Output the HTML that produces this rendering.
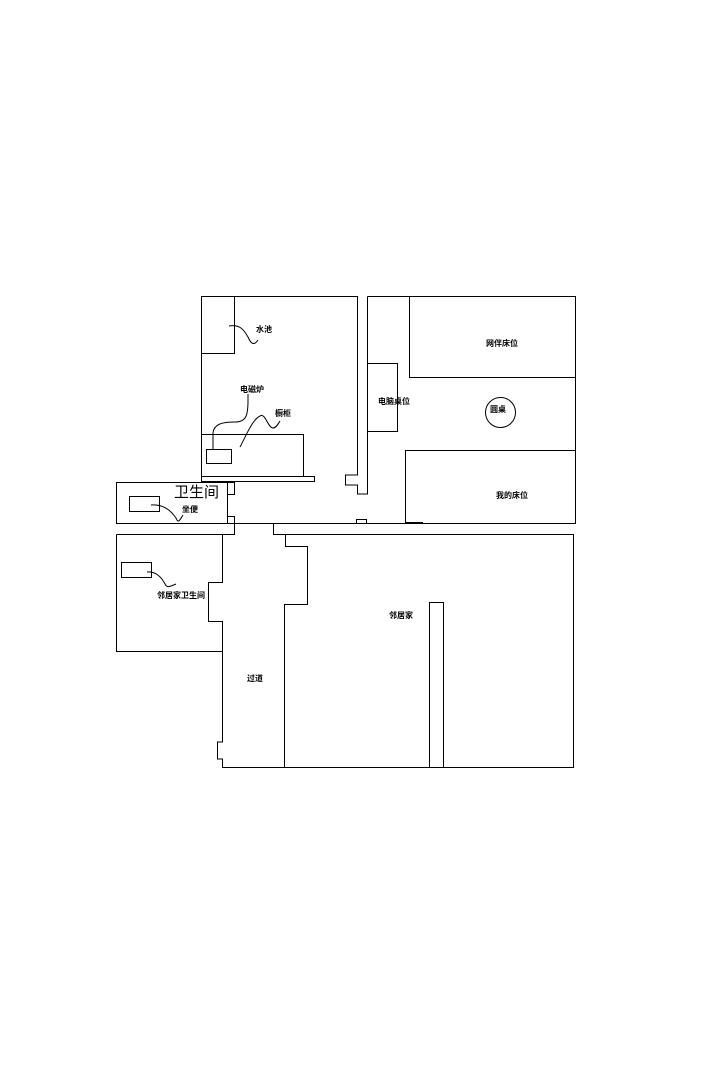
<!DOCTYPE html>
<html><head><meta charset="utf-8"><style>
html,body{margin:0;padding:0;background:#fff;}
svg{display:block;}
text{font-family:"Liberation Sans","Noto Sans CJK SC",sans-serif;font-size:8px;font-weight:bold;fill:#000;}
</style></head><body>
<svg width="714" height="1088" viewBox="0 0 714 1088" xmlns="http://www.w3.org/2000/svg">
<g fill="none" stroke="#000" stroke-width="1">
<!-- kitchen -->
<polyline points="201.5,476 201.5,296.5 357.5,296.5 357.5,475 345.5,475 345.5,485 357.5,485 357.5,494 367.5,494 367.5,296.5"/>
<rect x="201.5" y="296.5" width="33" height="57"/>
<rect x="201.5" y="434.5" width="102" height="42"/>
<rect x="201.5" y="476.5" width="113" height="5"/>
<rect x="206.5" y="449.5" width="25" height="14"/>
<!-- bathroom -->
<rect x="116.5" y="482.5" width="111" height="41"/>
<rect x="227.5" y="482.5" width="7" height="12"/>
<rect x="227.5" y="516.5" width="7" height="7"/>
<rect x="129.5" y="496.5" width="30" height="15"/>
<!-- bedroom -->
<polyline points="367.5,296.5 575.5,296.5 575.5,523.5 116.5,523.5"/>
<rect x="409.5" y="296.5" width="166" height="81"/>
<rect x="367.5" y="363.5" width="30" height="68"/>
<circle cx="500.5" cy="412.5" r="15"/>
<rect x="405.5" y="450.5" width="170" height="73"/>
<rect x="356.5" y="519.5" width="10" height="4"/>
<line x1="405" y1="523" x2="423" y2="523" stroke-width="2"/>
<!-- lower -->
<polyline points="116.5,534.5 234.5,534.5 234.5,523.5"/>
<polyline points="273.5,523.5 273.5,534.5 573.5,534.5 573.5,767.5 222.5,767.5 222.5,759 217.5,759 217.5,742 222.5,742 222.5,621.5 208.5,621.5 208.5,582.5 222.5,582.5 222.5,534.5"/>
<polyline points="116.5,534.5 116.5,651.5 222.5,651.5"/>
<polyline points="285.5,534.5 285.5,546.5 307.5,546.5 307.5,604.5 284.5,604.5 284.5,767.5"/>
<rect x="429.5" y="602.5" width="14" height="165"/>
<rect x="121.5" y="562.5" width="30" height="15"/>
<!-- leader curves -->
<path d="M229,326 C240,324 244,330 248,337 C251,344 254,346 258,340"/>
<path d="M213,449 L213,433 C214,424 222,422 235,422 C247,422 248,414 248,400 L248,394"/>
<path d="M240,447 C246,436 252,420 260,416 C265,412 268,428 273,428 C276,428 278,424 280,421"/>
<path d="M151,505 C165,504 172,512 176,518 C178,524 180,520 183,515"/>
<path d="M147,572 C156,571 162,578 165,584 C167,588 169,587 176,584"/>
</g>
<text x="256" y="332">水池</text>
<text x="240" y="392">电磁炉</text>
<text x="275" y="416">橱柜</text>
<text x="182" y="512">坐便</text>
<text x="174" y="497" style="font-size:15px;font-weight:normal">卫生间</text>
<text x="486" y="346">网伴床位</text>
<text x="378" y="404">电脑桌位</text>
<text x="490" y="412">圆桌</text>
<text x="496" y="498">我的床位</text>
<text x="157" y="598">邻居家卫生间</text>
<text x="389" y="618">邻居家</text>
<text x="247" y="681">过道</text>
</svg>
</body></html>
